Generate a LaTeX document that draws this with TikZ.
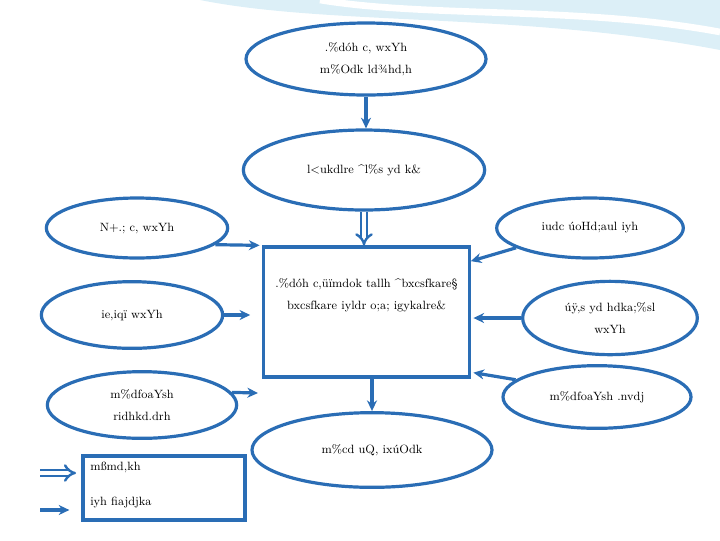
\documentclass[tikz,border=0pt]{standalone}
\usepackage{fontspec}
\usepackage{tikz}
\usetikzlibrary{arrows.meta,positioning,shapes.geometric,calc}
\definecolor{lineblue}{HTML}{2A6DB5}
\definecolor{swooshblue}{HTML}{DCEFF7}

\begin{document}
\begin{tikzpicture}[x=0.75pt, y=-0.75pt, >={Stealth[length=8pt,width=7.5pt]},
  oval/.style={draw=lineblue, line width=2.4pt, ellipse, fill=white, inner sep=0pt,
    font=\fontsize{9}{16.5}\selectfont, align=center},
  frame/.style={draw=lineblue, line width=2.4pt, rectangle, fill=white, inner sep=0pt,
    font=\fontsize{9}{16.5}\selectfont, align=center},
  link/.style={draw=lineblue, line width=2.4pt, ->},
  duty/.style={draw=lineblue, double=white, double distance=2.5pt, line width=1.8pt, -{Implies[length=6pt]}},
  keytext/.style={font=\fontsize{9}{10}\selectfont, anchor=west, inner sep=0pt}]
\useasboundingbox (0,0) rectangle (720,540);
% slide background
\fill[swooshblue] (200,0) .. controls (330,26) and (520,12) .. (720,50) -- (720,0) -- cycle;
\draw[white, line width=5pt] (320,0) .. controls (430,18) and (580,6) .. (720,32);

\node[oval, minimum width=180pt, minimum height=54pt] (top) at (366,59) {.\%dóh c, wxYh\\m\%Odk ld¾hd,h};
\node[oval, minimum width=181pt, minimum height=60pt] (mid) at (364,170) {l<ukdlre \textasciicircum l\%s yd k\&};
\node[frame, minimum width=154pt, minimum height=97.5pt] (box) at (366.5,312) {.\%dóh c,üïmdok tallh \textasciicircum bxcsfkare§\\bxcsfkare iyldr o;a; igykalre\&\\[10pt]};
\node[oval, minimum width=136pt, minimum height=45pt] (l1) at (137,228) {N+.; c, wxYh};
\node[oval, minimum width=140pt, minimum height=45pt] (r1) at (590,228) {iudc úoHd;aul iyh};
\node[oval, minimum width=136pt, minimum height=50pt] (l2) at (132,315) {ie,iqï wxYh};
\node[oval, minimum width=131pt, minimum height=55pt] (r2) at (610,318) {úÿ,s yd hdka;\%sl\\wxYh};
\node[oval, minimum width=142pt, minimum height=50pt] (l3) at (142,405) {m\%dfoaYsh\\ridhkd.drh};
\node[oval, minimum width=141pt, minimum height=47pt] (r3) at (597,397) {m\%dfoaYsh .nvdj};
\node[oval, minimum width=180pt, minimum height=56pt] (bot) at (372,450) {m\%cd uQ, ixúOdk};

\draw[link] (top.south) -- (top.south |- mid.north);
\draw[duty] (mid.south) -- (mid.south |- box.north);
\draw[link, shorten >=2pt] (l1.-12) -- (box.north west);
\draw[link] (r1.195) -- (box.26);
\draw[link, shorten >=9pt] (l2.east) -- (l2.east -| box.west);
\draw[link, shorten >=2pt] (r2.west) -- (r2.west -| box.east);
\coordinate (l3tip) at (258,393);
\draw[link] (l3.8) -- (l3tip);
\draw[link, shorten >=2pt] (r3.168) -- (box.-30);
\draw[link] (bot.north |- box.south) -- (bot.north);

% key
\node[frame, minimum width=121.5pt, minimum height=48pt] (key) at (164,488) {};
\node[keytext] (keyduty) at (90,467) {mßmd,kh};
\node[keytext] (keylink) at (90,502) {iyh fiajdjka};
\coordinate (dutytail) at (40,473);
\coordinate (linktail) at (40,510);
\draw[duty, shorten >=4pt] (dutytail) -- (dutytail -| key.west);
\draw[link, shorten >=9pt] (linktail) -- (linktail -| key.west);
\end{tikzpicture}
\end{document}
